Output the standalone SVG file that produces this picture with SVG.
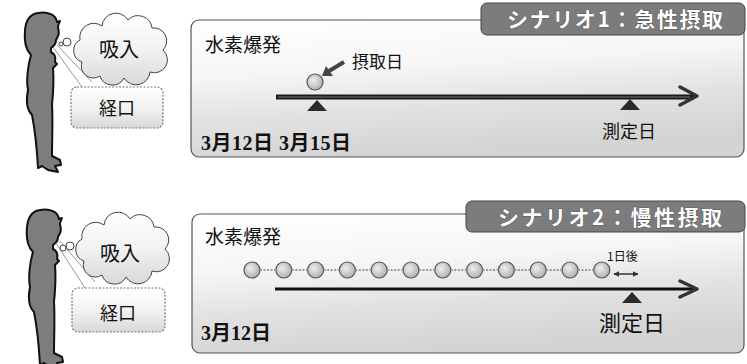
<svg xmlns="http://www.w3.org/2000/svg" width="747" height="364" viewBox="0 0 747 364">
  <defs>
    <linearGradient id="panelFill" x1="0" y1="0" x2="0.25" y2="1">
      <stop offset="0" stop-color="#ffffff"/>
      <stop offset="0.4" stop-color="#f6f6f6"/>
      <stop offset="0.7" stop-color="#e2e2e2"/>
      <stop offset="1" stop-color="#d4d4d4"/>
    </linearGradient>
    <linearGradient id="bubbleFill" x1="0" y1="0" x2="0" y2="1">
      <stop offset="0" stop-color="#ffffff"/>
      <stop offset="0.5" stop-color="#f2f2f2"/>
      <stop offset="1" stop-color="#d8d8d8"/>
    </linearGradient>
    <radialGradient id="ballFill" cx="0.4" cy="0.4" r="0.7">
      <stop offset="0" stop-color="#eeeeee"/>
      <stop offset="1" stop-color="#a8a8a8"/>
    </radialGradient>
    <marker id="tip" viewBox="0 0 10 10" refX="9" refY="5" markerWidth="4" markerHeight="4" orient="auto-start-reverse">
      <path d="M0,0 L10,5 L0,10 z" fill="#333"/>
    </marker>
    <path id="personShape" d="M38 13 C48 11 56 15 57 22 L60 21 L58 26 C58 30 60 33 58 36 L56 40 C56 44 54 46 51 48 L51 52 C55 54 56 58 55 62 L57 64 L53 68 C54 80 53 95 52 105 C53 120 52 140 52 156 L60 160 L61 165 L55 166 L58 172 L48 170 L42 166 L38 168 C37 150 35 130 32 115 C27 110 26 100 28 90 C26 80 28 65 31 55 C26 50 24 40 25 30 C26 20 30 14 38 13 Z"/>
    <path id="cloudShape" d="M82 62 A12 12 0 0 1 80 40 A14 14 0 0 1 102 26 A14 14 0 0 1 128 20 A14 14 0 0 1 152 28 A13 13 0 0 1 163 50 A13 13 0 0 1 150 72 A14 14 0 0 1 124 78 A13 13 0 0 1 100 76 A12 12 0 0 1 82 62 Z"/>
  </defs>
  <style>
    .person { fill: #7d7d7d; stroke: #111; stroke-width: 2; stroke-linejoin: round; }
    .cloud { fill: url(#bubbleFill); stroke: #444; stroke-width: 1; }
    .puff { fill: #fff; stroke: #444; stroke-width: 1; }
    .route { fill: url(#bubbleFill); stroke: #777; stroke-width: 1.2; stroke-dasharray: 2 1.5; }
    .ray { stroke: #999; stroke-width: 1; fill: none; }
    .panel { fill: url(#panelFill); stroke: #555; stroke-width: 1.2; }
    .tab { fill: #7c7c7c; stroke: #444; stroke-width: 1; }
    .tabText { font-family: "Noto Sans CJK JP", sans-serif; font-size: 21px; font-weight: bold; fill: #fff; stroke: #333; stroke-width: 0.6; paint-order: stroke; }
    .jp { font-family: "Noto Sans CJK JP", sans-serif; fill: #111; }
    .date { font-family: "Liberation Serif", "Noto Sans CJK JP", serif; font-weight: bold; fill: #111; }
    .ball { fill: url(#ballFill); stroke: #555; stroke-width: 1.2; }
    .link { stroke: #999; stroke-width: 2; stroke-dasharray: 2 1.5; }
    .mark { fill: #2a2a2a; }
    .axis1 { stroke: #1a1a1a; stroke-width: 5; fill: none; }
    .axis1in { stroke: #777; stroke-width: 1.2; fill: none; }
    .axis2 { stroke: #111; stroke-width: 3; fill: none; }
    .chev { stroke: #333; stroke-width: 3.5; fill: none; stroke-linecap: round; stroke-linejoin: round; }
  </style>

  <!-- person / exposure routes, acute -->
  <g id="person1">
    <use href="#personShape" class="person"/>
    <line class="ray" x1="53" y1="47" x2="82" y2="87"/>
    <line class="ray" x1="57" y1="45" x2="92" y2="82"/>
    <circle class="puff" cx="61" cy="44" r="2"/>
    <circle class="puff" cx="67" cy="42" r="4"/>
  </g>
  <g id="inhale1">
    <use href="#cloudShape" class="cloud"/>
    <text class="jp" x="119" y="57" font-size="20" text-anchor="middle">吸入</text>
  </g>
  <g id="oral1">
    <rect class="route" x="71" y="87" width="92" height="41" rx="6"/>
    <text class="jp" x="117" y="115" font-size="18" text-anchor="middle">経口</text>
  </g>

  <!-- person / exposure routes, chronic -->
  <g id="person2">
    <use href="#personShape" class="person" transform="translate(2,197)"/>
    <line class="ray" x1="56" y1="243" x2="85" y2="288"/>
    <line class="ray" x1="60" y1="241" x2="95" y2="282"/>
    <circle class="puff" cx="63" cy="248" r="3"/>
    <circle class="puff" cx="70" cy="246" r="4"/>
  </g>
  <g id="inhale2">
    <use href="#cloudShape" class="cloud" transform="translate(2,199)"/>
    <text class="jp" x="120" y="261" font-size="20" text-anchor="middle">吸入</text>
  </g>
  <g id="oral2">
    <rect class="route" x="72" y="288" width="93" height="44" rx="6"/>
    <text class="jp" x="118" y="320" font-size="18" text-anchor="middle">経口</text>
  </g>

  <!-- scenario 1 panel -->
  <g id="scenario1">
    <rect class="panel" x="191" y="20" width="553" height="137" rx="8"/>
    <rect class="tab" x="481" y="3" width="264" height="32" rx="6"/>
    <text class="tabText" x="507" y="27" textLength="216" lengthAdjust="spacing">シナリオ1：急性摂取</text>
    <text class="jp" x="205" y="52" font-size="19">水素爆発</text>
    <text class="jp" x="352" y="68" font-size="17">摂取日</text>
    <text class="date" x="201" y="150" font-size="20" letter-spacing="0.5">3月12日 3月15日</text>
    <text class="jp" x="602" y="138" font-size="18">測定日</text>
  </g>
  <g id="intake1">
    <circle class="ball" cx="315" cy="82" r="8"/>
  </g>

  <!-- scenario 2 panel -->
  <g id="scenario2">
    <rect class="panel" x="192" y="214" width="552" height="139" rx="8"/>
    <rect class="tab" x="466" y="201" width="279" height="31" rx="6"/>
    <text class="tabText" x="498" y="225" textLength="224" lengthAdjust="spacing">シナリオ2：慢性摂取</text>
    <text class="jp" x="205" y="244" font-size="19">水素爆発</text>
    <text class="date" x="201" y="340" font-size="20">3月12日</text>
    <text class="jp" x="607" y="261" font-size="12">1日後</text>
    <text class="jp" x="599" y="331" font-size="22">測定日</text>
  </g>
  <g id="intake2">
    <circle class="ball" cx="252" cy="270" r="8"/>
    <circle class="ball" cx="283.8" cy="270" r="8"/>
    <circle class="ball" cx="315.6" cy="270" r="8"/>
    <circle class="ball" cx="347.4" cy="270" r="8"/>
    <circle class="ball" cx="379.2" cy="270" r="8"/>
    <circle class="ball" cx="411" cy="270" r="8"/>
    <circle class="ball" cx="442.8" cy="270" r="8"/>
    <circle class="ball" cx="474.6" cy="270" r="8"/>
    <circle class="ball" cx="506.4" cy="270" r="8"/>
    <circle class="ball" cx="538.2" cy="270" r="8"/>
    <circle class="ball" cx="570" cy="270" r="8"/>
    <circle class="ball" cx="601.8" cy="270" r="8"/>
  </g>

  <!-- time axes, markers and pointers -->
  <g id="connectors">
    <!-- acute axis -->
    <line class="axis1" x1="276" y1="97" x2="694" y2="97"/>
    <line class="axis1in" x1="278" y1="97" x2="690" y2="97"/>
    <polyline class="chev" points="680,87 697,96 680,105"/>
    <polygon class="mark" points="317,100 327,111 307,111"/>
    <polygon class="mark" points="630,99 640,110 620,110"/>
    <!-- pointer to intake day -->
    <line x1="344" y1="62" x2="329" y2="71" stroke="#444" stroke-width="4"/>
    <polygon points="322,76 333,76 326,66" fill="#444"/>
    <!-- chronic axis -->
    <line class="axis2" x1="275" y1="289" x2="694" y2="289"/>
    <polyline class="chev" points="680,281 697,289 680,297"/>
    <polygon class="mark" points="632,292 642,303 622,303"/>
    <line x1="614" y1="274" x2="638" y2="274" stroke="#333" stroke-width="1.5" marker-start="url(#tip)" marker-end="url(#tip)"/>
    <!-- links between daily intakes -->
    <line class="link" x1="260" y1="270" x2="275.8" y2="270"/>
    <line class="link" x1="291.8" y1="270" x2="307.6" y2="270"/>
    <line class="link" x1="323.6" y1="270" x2="339.4" y2="270"/>
    <line class="link" x1="355.4" y1="270" x2="371.2" y2="270"/>
    <line class="link" x1="387.2" y1="270" x2="403" y2="270"/>
    <line class="link" x1="419" y1="270" x2="434.8" y2="270"/>
    <line class="link" x1="450.8" y1="270" x2="466.6" y2="270"/>
    <line class="link" x1="482.6" y1="270" x2="498.4" y2="270"/>
    <line class="link" x1="514.4" y1="270" x2="530.2" y2="270"/>
    <line class="link" x1="546.2" y1="270" x2="562" y2="270"/>
    <line class="link" x1="578" y1="270" x2="593.8" y2="270"/>
  </g>
</svg>
